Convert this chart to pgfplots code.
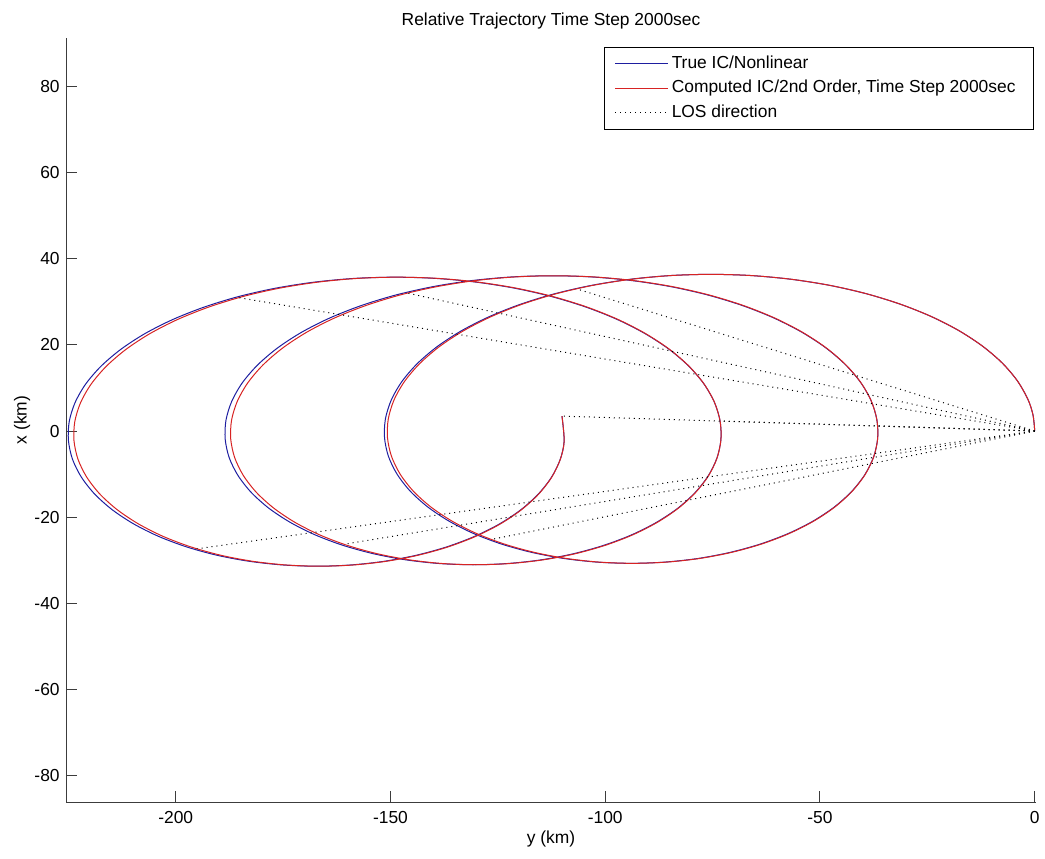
\documentclass[border=0pt]{standalone}
\usepackage{pgfplots}
\pgfplotsset{compat=1.18}
\usepackage{fontspec}
\setmainfont{Liberation Sans}
\definecolor{trueblue}{RGB}{30,30,160}
\definecolor{compred}{RGB}{215,35,35}
\definecolor{axgray}{RGB}{60,60,60}
\begin{document}
\begin{tikzpicture}
\begin{axis}[
  name=ax,
  scale only axis, width=484.8pt, height=382.2pt,
  xmin=-225.55, xmax=0.3, ymin=-86.3, ymax=91.4,
  axis x line*=bottom, axis y line*=left,
  axis line style={axgray, line width=0.5pt},
  xtick={-200,-150,-100,-50,0}, xticklabels={-200,-150,-100,-50,0},
  ytick={-80,-60,-40,-20,0,20,40,60,80}, yticklabels={-80,-60,-40,-20,0,20,40,60,80},
  tick align=inside, major tick length=5.5pt,
  tick style={axgray, line width=0.5pt},
  font=\fontsize{8.7}{10}\selectfont,
  xticklabel style={anchor=base, inner sep=0pt, yshift=-10.5pt},
  yticklabel style={anchor=east, inner sep=0pt, xshift=-3pt},
  xlabel={y (km)}, ylabel={x (km)},
  xlabel style={at={(axis description cs:0.5,-0.0536)}, anchor=base, inner sep=0pt},
  ylabel style={at={(axis description cs:-0.0407,0.5)}, anchor=base, inner sep=0pt},
  title={Relative Trajectory Time Step 2000sec},
  every axis title shift=0pt,
  title style={at={(axis description cs:0.5,1.0166)}, anchor=base, inner sep=0pt},
  legend cell align=left,
  legend image code/.code={\draw[#1] (0pt,0pt) -- (26.5pt,0pt);},
  legend style={at={(axis description cs:0.998,0.988)}, anchor=north east,
    draw=black, line width=0.5pt, fill=white, inner xsep=5pt, inner ysep=2.1pt,
    font=\fontsize{8.7}{10}\selectfont,
    nodes={inner xsep=1.5pt, inner ysep=2pt, text height=6.4pt, text depth=1.85pt}},
]
% True IC / Nonlinear
\addplot[trueblue, line width=0.5pt, smooth] coordinates {
(0.00,0.05) (-0.40,3.73) (-1.58,7.36) (-4.03,11.65) (-7.56,15.80) (-12.15,19.72) (-17.72,23.36)
(-24.18,26.64) (-31.44,29.52) (-39.40,31.95) (-47.92,33.88) (-56.89,35.28) (-66.15,36.13)
(-75.55,36.41) (-84.97,36.12) (-94.23,35.26) (-103.21,33.84) (-111.76,31.90) (-119.74,29.46)
(-127.04,26.56) (-133.54,23.26) (-139.14,19.61) (-143.76,15.67) (-147.34,11.51) (-149.82,7.21)
(-151.18,2.83) (-151.39,-1.55) (-150.49,-5.85) (-148.48,-10.01) (-145.43,-13.95) (-141.39,-17.60)
(-136.45,-20.90) (-130.70,-23.80) (-124.25,-26.24) (-117.24,-28.18) (-109.78,-29.60) (-102.04,-30.46)
(-94.13,-30.75) (-86.22,-30.47) (-78.46,-29.63) (-70.98,-28.22) (-63.95,-26.29) (-57.47,-23.86)
(-51.69,-20.98) (-46.71,-17.70) (-42.64,-14.06) (-39.55,-10.14) (-37.50,-5.99) (-36.57,-1.70)
(-36.76,2.66) (-38.09,7.03) (-40.55,11.32) (-44.11,15.46) (-48.73,19.39) (-54.33,23.02)
(-60.84,26.31) (-68.15,29.19) (-76.17,31.62) (-84.74,33.55) (-93.76,34.95) (-103.08,35.80)
(-112.53,36.08) (-121.99,35.79) (-131.30,34.93) (-140.32,33.51) (-148.90,31.57) (-156.91,29.12)
(-164.22,26.23) (-170.73,22.93) (-176.33,19.28) (-180.95,15.34) (-184.52,11.18) (-186.97,6.88)
(-188.31,2.50) (-188.49,-1.88) (-187.56,-6.19) (-185.51,-10.34) (-182.42,-14.28) (-178.34,-17.93)
(-173.35,-21.23) (-167.56,-24.13) (-161.07,-26.57) (-154.01,-28.51) (-146.51,-29.93) (-138.72,-30.79)
(-130.78,-31.08) (-122.85,-30.80) (-115.05,-29.96) (-107.56,-28.56) (-100.50,-26.62) (-94.01,-24.20)
(-88.21,-21.31) (-83.22,-18.03) (-79.15,-14.39) (-76.05,-10.47) (-74.00,-6.32) (-73.07,-2.03)
(-73.26,2.33) (-74.59,6.70) (-77.05,10.99) (-80.61,15.13) (-85.23,19.06) (-90.83,22.69)
(-97.34,25.98) (-104.65,28.86) (-112.67,31.29) (-121.24,33.22) (-130.26,34.62) (-139.58,35.47)
(-149.03,35.75) (-158.49,35.46) (-167.80,34.59) (-176.82,33.18) (-185.40,31.24) (-193.41,28.79)
(-200.72,25.90) (-207.24,22.60) (-212.83,18.95) (-217.45,15.01) (-221.02,10.85) (-223.47,6.55)
(-224.81,2.17) (-224.99,-2.21) (-224.06,-6.52) (-222.01,-10.67) (-218.92,-14.61) (-214.84,-18.26)
(-209.85,-21.56) (-204.06,-24.46) (-197.57,-26.90) (-190.51,-28.85) (-183.01,-30.26) (-175.22,-31.12)
(-167.28,-31.42) (-159.35,-31.14) (-151.55,-30.29) (-144.06,-28.89) (-137.00,-26.96) (-130.51,-24.53)
(-124.71,-21.65) (-119.72,-18.36) (-115.65,-14.72) (-112.55,-10.80) (-110.50,-6.65) (-109.57,-2.36)
(-110.07,3.46)
};
\addlegendentry{True IC/Nonlinear}
% Computed IC / 2nd order
\addplot[compred, line width=0.5pt, smooth] coordinates {
(0.00,0.05) (-0.40,3.73) (-1.58,7.36) (-4.03,11.65) (-7.56,15.80) (-12.14,19.72) (-17.70,23.36)
(-24.15,26.64) (-31.40,29.52) (-39.34,31.95) (-47.84,33.88) (-56.78,35.28) (-66.01,36.13)
(-75.38,36.41) (-84.76,36.12) (-93.98,35.26) (-102.92,33.84) (-111.42,31.90) (-119.36,29.46)
(-126.61,26.56) (-133.06,23.26) (-138.62,19.61) (-143.20,15.67) (-146.74,11.51) (-149.18,7.21)
(-150.51,2.83) (-150.70,-1.55) (-149.78,-5.85) (-147.76,-10.01) (-144.71,-13.95) (-140.67,-17.60)
(-135.74,-20.90) (-130.01,-23.80) (-123.59,-26.24) (-116.61,-28.18) (-109.19,-29.60) (-101.49,-30.46)
(-93.63,-30.75) (-85.78,-30.47) (-78.07,-29.63) (-70.65,-28.22) (-63.67,-26.29) (-57.25,-23.86)
(-51.52,-20.98) (-46.59,-17.70) (-42.56,-14.06) (-39.50,-10.14) (-37.48,-5.99) (-36.56,-1.70)
(-36.76,2.66) (-38.08,7.03) (-40.53,11.32) (-44.06,15.46) (-48.64,19.39) (-54.20,23.02)
(-60.65,26.31) (-67.90,29.19) (-75.84,31.62) (-84.34,33.55) (-93.28,34.95) (-102.51,35.80)
(-111.88,36.08) (-121.26,35.79) (-130.48,34.93) (-139.42,33.51) (-147.92,31.57) (-155.86,29.12)
(-163.11,26.23) (-169.56,22.93) (-175.12,19.28) (-179.70,15.34) (-183.24,11.18) (-185.68,6.88)
(-187.01,2.50) (-187.20,-1.88) (-186.28,-6.19) (-184.26,-10.34) (-181.21,-14.28) (-177.17,-17.93)
(-172.24,-21.23) (-166.51,-24.13) (-160.09,-26.57) (-153.11,-28.51) (-145.69,-29.93) (-137.99,-30.79)
(-130.13,-31.08) (-122.28,-30.80) (-114.57,-29.96) (-107.16,-28.56) (-100.17,-26.62) (-93.76,-24.20)
(-88.02,-21.31) (-83.09,-18.03) (-79.06,-14.39) (-76.00,-10.47) (-73.98,-6.32) (-73.06,-2.03)
(-73.26,2.33) (-74.58,6.70) (-77.03,10.99) (-80.56,15.13) (-85.14,19.06) (-90.70,22.69)
(-97.15,25.98) (-104.40,28.86) (-112.34,31.29) (-120.84,33.22) (-129.78,34.62) (-139.01,35.47)
(-148.38,35.75) (-157.76,35.46) (-166.98,34.59) (-175.92,33.18) (-184.42,31.24) (-192.36,28.79)
(-199.61,25.90) (-206.07,22.60) (-211.62,18.95) (-216.20,15.01) (-219.74,10.85) (-222.18,6.55)
(-223.51,2.17) (-223.70,-2.21) (-222.78,-6.52) (-220.76,-10.67) (-217.71,-14.61) (-213.67,-18.26)
(-208.74,-21.56) (-203.01,-24.46) (-196.59,-26.90) (-189.61,-28.85) (-182.19,-30.26) (-174.49,-31.12)
(-166.63,-31.42) (-158.78,-31.14) (-151.07,-30.29) (-143.66,-28.89) (-136.67,-26.96) (-130.26,-24.53)
(-124.52,-21.65) (-119.59,-18.36) (-115.56,-14.72) (-112.50,-10.80) (-110.48,-6.65) (-109.56,-2.36)
(-110.07,3.46)
};
\addlegendentry{Computed IC/2nd Order, Time Step 2000sec\hspace{2.5pt}\null}
% LOS directions
\addplot[black, line width=0.5pt, dash pattern=on 0.5pt off 2pt] coordinates {(0,0) (-106.71,33.05)};
\addlegendentry{LOS direction}
\addplot[black, line width=0.5pt, dash pattern=on 0.5pt off 2pt, forget plot] coordinates {(0,0) (-126.55,-25.20)};
\addplot[black, line width=0.5pt, dash pattern=on 0.5pt off 2pt, forget plot] coordinates {(0,0) (-36.56,1.19)};
\addplot[black, line width=0.5pt, dash pattern=on 0.5pt off 2pt, forget plot] coordinates {(0,0) (-146.05,32.05)};
\addplot[black, line width=0.5pt, dash pattern=on 0.5pt off 2pt, forget plot] coordinates {(0,0) (-160.84,-26.32)};
\addplot[black, line width=0.5pt, dash pattern=on 0.5pt off 2pt, forget plot] coordinates {(0,0) (-73.26,2.33)};
\addplot[black, line width=0.5pt, dash pattern=on 0.5pt off 2pt, forget plot] coordinates {(0,0) (-185.34,30.99)};
\addplot[black, line width=0.5pt, dash pattern=on 0.5pt off 2pt, forget plot] coordinates {(0,0) (-195.08,-27.38)};
\addplot[black, line width=0.5pt, dash pattern=on 0.5pt off 2pt, forget plot] coordinates {(0,0) (-110.07,3.46)};
\end{axis}
\pgfresetboundingbox
\path[use as bounding box] ([xshift=-33pt,yshift=-28pt]ax.south west) rectangle ([xshift=4.5pt,yshift=18.85pt]ax.north east);
\end{tikzpicture}
\end{document}
